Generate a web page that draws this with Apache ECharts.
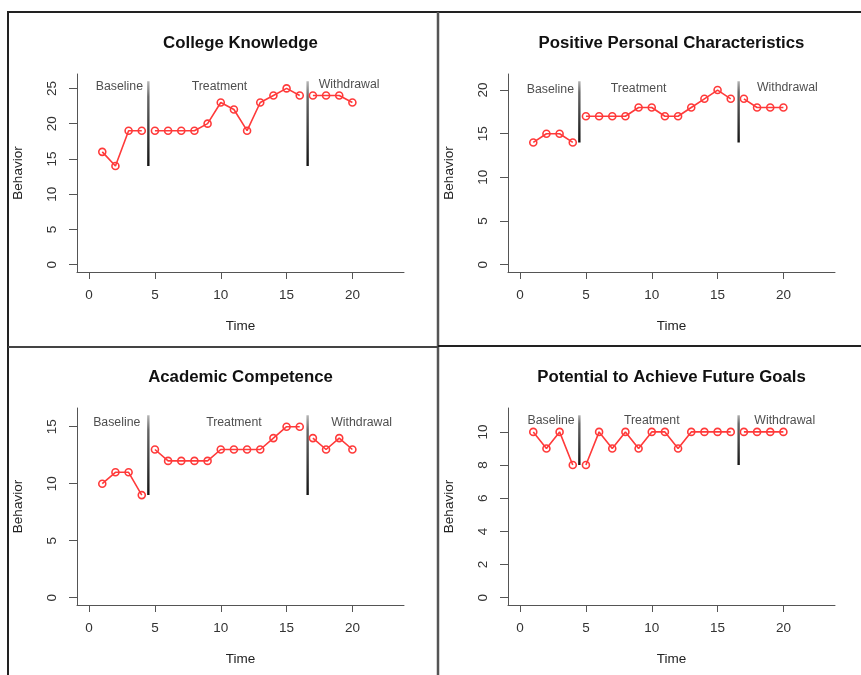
<!DOCTYPE html>
<html>
<head>
<meta charset="utf-8">
<title>Single-case design plots</title>
<script src="https://cdn.jsdelivr.net/npm/echarts@6/dist/echarts.min.js"></script>
<style>
  html, body { margin: 0; padding: 0; background: #fff; }
  #chart { width: 861px; height: 675px; }
</style>
</head>
<body>
<div id="chart"></div>
<script>
  // sessions (Time) and the four measures
  const sessions = [1, 2, 3, 4, 5, 6, 7, 8, 9, 10, 11, 12, 13, 14, 15, 16, 17, 18, 19, 20];
  const titles = ['College Knowledge', 'Positive Personal Characteristics', 'Academic Competence', 'Potential to Achieve Future Goals'];
  const collegeKnowledge = [16, 14, 19, 19, 19, 19, 19, 19, 20, 23, 22, 19, 23, 24, 25, 24, 24, 24, 24, 23];
  const personalCharacteristics = [14, 15, 15, 14, 17, 17, 17, 17, 18, 18, 17, 17, 18, 19, 20, 19, 19, 18, 18, 18];
  const academicCompetence = [10, 11, 11, 9, 13, 12, 12, 12, 12, 13, 13, 13, 13, 14, 15, 15, 14, 13, 14, 13];
  const futureGoals = [10, 9, 10, 8, 8, 10, 9, 10, 9, 10, 10, 9, 10, 10, 10, 10, 10, 10, 10, 10];
  const panelValues = [collegeKnowledge, personalCharacteristics, academicCompetence, futureGoals];

  // phases: baseline 1-4, treatment 5-16, withdrawal 17-20
  const phaseNames = ['Baseline', 'Treatment', 'Withdrawal'];
  const phaseStarts = [1, 5, 17];
  const phaseLineX = [4.5, 16.6];
  const phaseLineRange = [[14, 26], [14, 21], [9, 16], [8, 11]];
  const phaseLabelX = [[2.3, 9.9, 19.75], [2.3, 9, 20.3], [2.1, 11, 20.7], [2.35, 10, 20.1]];
  const phaseLabelY = [[25.3, 25.3, 25.5], [20.1, 20.2, 20.3], [15.35, 15.35, 15.4], [10.68, 10.68, 10.7]];

  // axes
  const xTicks = [0, 5, 10, 15, 20];
  const xLimit = [0, 23];
  const yTicks = [[0, 5, 10, 15, 20, 25], [0, 5, 10, 15, 20], [0, 5, 10, 15], [0, 2, 4, 6, 8, 10]];
  const yLimits = [[0, 26], [0, 21], [0, 16], [0, 11]];

  const FONT = '"Liberation Sans", Arial, Helvetica, sans-serif';
  const RED = '#ff3a3a';
  const grids = [
    { left: 77, top: 74, width: 327, height: 198 },
    { left: 508, top: 74, width: 327, height: 198 },
    { left: 77, top: 408, width: 327, height: 197 },
    { left: 508, top: 408, width: 327, height: 197 }
  ];
  const titleTop = [35, 35, 369, 369];

  // R style: axis range widened by 4% on each side
  function ext(lim) {
    const d = (lim[1] - lim[0]) * 0.04;
    return [lim[0] - d, lim[1] + d];
  }

  const axisLineStyle = { color: '#555', width: 1 };
  const xAxes = [], yAxes = [], series = [], titleList = [];

  for (let p = 0; p < 4; p++) {
    const xr = ext(xLimit), yr = ext(yLimits[p]);
    xAxes.push({
      gridIndex: p, type: 'value', min: xr[0], max: xr[1],
      name: 'Time', nameLocation: 'middle', nameGap: 47,
      nameTextStyle: { fontFamily: FONT, fontSize: 13.5, color: '#222' },
      axisLine: { show: true, onZero: false, lineStyle: axisLineStyle },
      axisTick: { show: true, length: 7, lineStyle: axisLineStyle, customValues: xTicks },
      axisLabel: { customValues: xTicks, margin: 16, fontFamily: FONT, fontSize: 13.5, color: '#333' },
      splitLine: { show: false }
    });
    yAxes.push({
      gridIndex: p, type: 'value', min: yr[0], max: yr[1],
      name: 'Behavior', nameLocation: 'middle', nameGap: 52,
      nameTextStyle: { fontFamily: FONT, fontSize: 13.5, color: '#222' },
      axisLine: { show: true, onZero: false, lineStyle: axisLineStyle },
      axisTick: { show: true, length: 8, lineStyle: axisLineStyle, customValues: yTicks[p] },
      axisLabel: { customValues: yTicks[p], rotate: 90, margin: 18, fontFamily: FONT, fontSize: 13.5, color: '#333' },
      splitLine: { show: false }
    });
    titleList.push({
      text: titles[p],
      left: grids[p].left + grids[p].width / 2,
      textAlign: 'center',
      top: titleTop[p],
      padding: 0,
      textStyle: { fontFamily: FONT, fontSize: 16.8, fontWeight: 'bold', color: '#111' }
    });

    // one line per phase, not joined across the phase change
    const vals = panelValues[p];
    for (let k = 0; k < phaseStarts.length; k++) {
      const end = k + 1 < phaseStarts.length ? phaseStarts[k + 1] : sessions.length + 1;
      const pts = [];
      for (let i = 0; i < sessions.length; i++) {
        if (sessions[i] >= phaseStarts[k] && sessions[i] < end) pts.push([sessions[i], vals[i]]);
      }
      series.push({
        type: 'line', xAxisIndex: p, yAxisIndex: p, data: pts,
        symbol: 'circle', symbolSize: 7, showSymbol: true,
        lineStyle: { color: RED, width: 1.6 },
        itemStyle: { color: 'rgba(0,0,0,0)', borderColor: RED, borderWidth: 1.6 },
        silent: true, animation: false
      });
    }

    // phase change lines
    phaseLineX.forEach(function (x) {
      series.push({
        type: 'line', xAxisIndex: p, yAxisIndex: p,
        data: [[x, phaseLineRange[p][0]], [x, phaseLineRange[p][1]]],
        symbol: 'none', silent: true, animation: false, z: 1,
        lineStyle: {
          width: 2.4,
          color: new echarts.graphic.LinearGradient(0, 0, 0, 1, [
            { offset: 0, color: '#c4c4c4' },
            { offset: 0.2, color: '#666' },
            { offset: 1, color: '#111' }
          ])
        }
      });
    });

    // phase labels
    series.push({
      type: 'scatter', xAxisIndex: p, yAxisIndex: p, symbolSize: 0, silent: true, animation: false,
      data: phaseNames.map(function (n, k) { return { name: n, value: [phaseLabelX[p][k], phaseLabelY[p][k]] }; }),
      label: {
        show: true, position: 'inside', formatter: '{b}',
        fontFamily: FONT, fontSize: 12.3, color: '#222'
      }
    });
  }

  const chart = echarts.init(document.getElementById('chart'), null, { renderer: 'canvas' });
  chart.setOption({
    backgroundColor: '#fff',
    animation: false,
    title: titleList,
    grid: grids,
    xAxis: xAxes,
    yAxis: yAxes,
    series: series,
    graphic: [
      { type: 'line', shape: { x1: 7, y1: 12, x2: 861, y2: 12 }, style: { stroke: '#222', lineWidth: 2 }, silent: true },
      { type: 'line', shape: { x1: 8, y1: 12, x2: 8, y2: 675 }, style: { stroke: '#222', lineWidth: 2 }, silent: true },
      { type: 'line', shape: { x1: 438, y1: 12, x2: 438, y2: 675 }, style: { stroke: '#555', lineWidth: 2.5 }, silent: true },
      { type: 'line', shape: { x1: 8, y1: 347, x2: 438, y2: 347 }, style: { stroke: '#444', lineWidth: 2 }, silent: true },
      { type: 'line', shape: { x1: 438, y1: 346, x2: 861, y2: 346 }, style: { stroke: '#222', lineWidth: 2 }, silent: true }
    ]
  });
</script>
</body>
</html>
